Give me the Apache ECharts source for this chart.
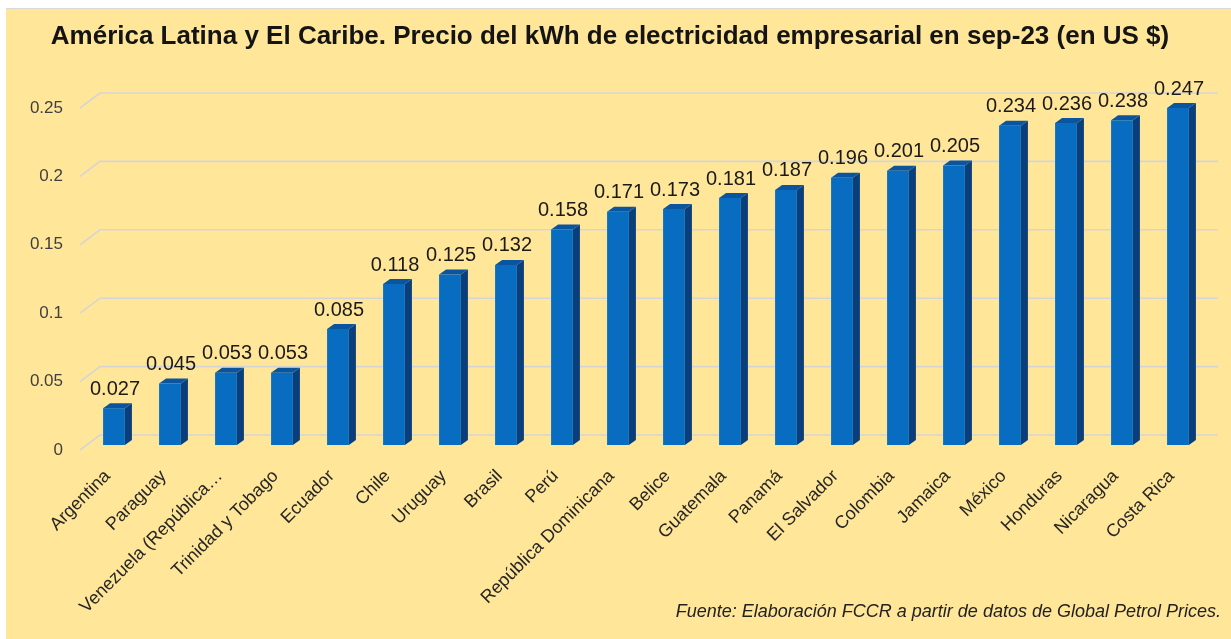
<!DOCTYPE html>
<html><head><meta charset="utf-8">
<script src="https://cdn.jsdelivr.net/npm/echarts@6/dist/echarts.min.js"></script>
<style>
html,body{margin:0;padding:0;background:#fff;width:1231px;height:639px;overflow:hidden}
#line{position:absolute;left:6px;top:8px;width:1225px;height:1px;background:#d9d9d9}
#c{position:absolute;left:6px;top:9px;width:1225px;height:630px}
</style></head>
<body><div id="line"></div><div id="c"></div>
<script>
const titleText = 'América Latina y El Caribe. Precio del kWh de electricidad empresarial en sep-23 (en US $)';
const sourceText = 'Fuente: Elaboración FCCR a partir de datos de Global Petrol Prices.';
const categories = ['Argentina','Paraguay','Venezuela (República…','Trinidad y Tobago','Ecuador','Chile','Uruguay','Brasil','Perú','República Dominicana','Belice','Guatemala','Panamá','El Salvador','Colombia','Jamaica','México','Honduras','Nicaragua','Costa Rica'];
const values = [0.027,0.045,0.053,0.053,0.085,0.118,0.125,0.132,0.158,0.171,0.173,0.181,0.187,0.196,0.201,0.205,0.234,0.236,0.238,0.247];
const yTicks = [0,0.05,0.1,0.15,0.2,0.25];
const yTickLabels = ['0','0.05','0.1','0.15','0.2','0.25'];

const FONT = '"Liberation Sans", Arial, sans-serif';
const chart = echarts.init(document.getElementById('c'));
chart.setOption({
  backgroundColor: '#FFE699',
  animation: false,
  graphic: [
    {type:'text', x:604, y:28, style:{text:titleText, font:'bold 26px '+FONT, fill:'#141414', align:'center', verticalAlign:'middle'}},
    {type:'text', x:1215, y:603, style:{text:sourceText, font:'italic 18px '+FONT, fill:'#222', align:'right', verticalAlign:'middle'}}
  ],
  grid: [
    {left:74, right:13, top:99, bottom:189},
    {left:80, width:1120, top:95, bottom:194}
  ],
  xAxis: [
    {gridIndex:0, type:'value', min:0, max:1, show:false},
    {gridIndex:1, type:'category', data:categories, axisLine:{show:false}, axisTick:{show:false},
     axisLabel:{rotate:45, margin:22, padding:[0,9,0,0], interval:0, fontSize:18, fontFamily:FONT, color:'#262626'}}
  ],
  yAxis: [
    {gridIndex:0, type:'value', min:0, max:0.25, interval:0.05, axisLine:{show:false}, axisTick:{show:false}, splitLine:{show:false},
     axisLabel:{margin:17, fontSize:17, fontFamily:FONT, color:'#404040',
       formatter:(v)=>{const k=yTicks.findIndex(t=>Math.abs(t-v)<1e-9); return k>=0?yTickLabels[k]:'';}}},
    {gridIndex:1, type:'value', min:0, max:0.25, interval:0.05, show:false}
  ],
  series: [
    {type:'custom', xAxisIndex:0, yAxisIndex:0, silent:true, z:1,
     encode:{x:0, y:1},
     data: yTicks.map(v=>[0,v]),
     renderItem:(params, api)=>{
       const cs = params.coordSys;
       const y = api.coord([0, api.value(1)])[1];
       return {type:'polyline', shape:{points:[[cs.x,y],[cs.x+20,y-15],[cs.x+cs.width,y-15]]},
               style:{stroke:'#d5d5d5', lineWidth:1.6, fill:null}};
     }},
    {type:'custom', xAxisIndex:1, yAxisIndex:1, silent:true, z:2,
     encode:{x:0, y:1},
     data: values.map((v,i)=>[i,v]),
     renderItem:(params, api)=>{
       const i = api.value(0), v = api.value(1);
       const p0 = api.coord([i,0]), p1 = api.coord([i,v]);
       const band = api.size([1,0])[0];
       const w = band*0.39, dx = 7, dy = 5;
       const x = p0[0]-w/2, y0 = p0[1], y1 = p1[1];
       return {type:'group', children:[
         {type:'polygon', shape:{points:[[x+w,y1],[x+w+dx,y1-dy],[x+w+dx,y0-dy],[x+w,y0]]}, style:{fill:'#0B3F7A'}},
         {type:'polygon', shape:{points:[[x,y1],[x+dx,y1-dy],[x+w+dx,y1-dy],[x+w,y1]]}, style:{fill:'#0A559E'}},
         {type:'rect', shape:{x:x, y:y1, width:w, height:y0-y1}, style:{fill:'#086DC1'}},
         {type:'text', x:p0[0]+1, y:y1-19, style:{text:String(values[params.dataIndex]), font:'20px '+FONT, fill:'#1a1a1a',
           align:'center', verticalAlign:'middle', textAlign:'center', textVerticalAlign:'middle'}}
       ]};
     }}
  ]
});
</script></body></html>
